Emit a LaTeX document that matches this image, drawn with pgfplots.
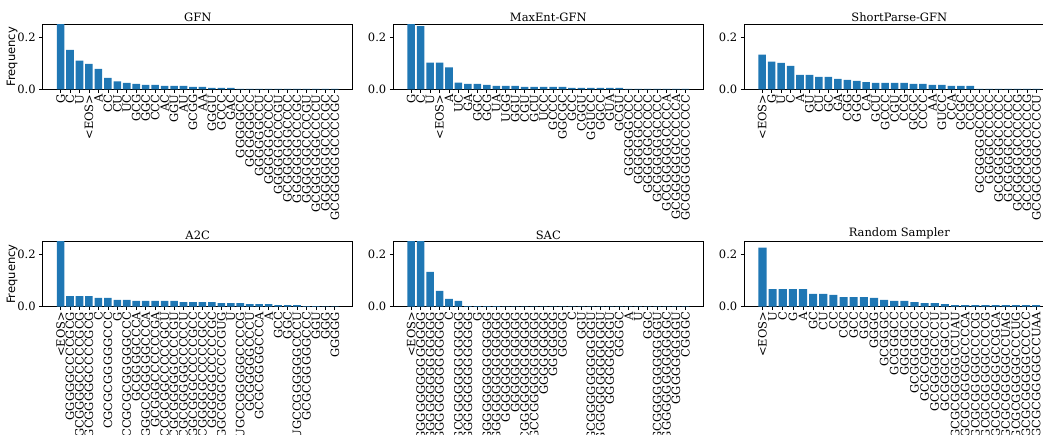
\documentclass[border=0pt]{standalone}
\usepackage{fontspec}
\setmainfont{DejaVu Serif}
\setsansfont{DejaVu Sans}
\usepackage{pgfplots}
\pgfplotsset{compat=1.18}
\definecolor{barblue}{HTML}{1F77B4}

\newcommand{\lblfont}{\fontsize{11.5}{13}\selectfont}

\pgfplotsset{
  panel/.style={
    scale only axis, width=310pt, height=65pt,
    ymin=0, ymax=0.25, ytick={0,0.2},
    yticklabel style={/pgf/number format/.cd, fixed, fixed zerofill, precision=1, assume math mode=true},
    tick align=outside, major tick length=3.5pt,
    tick style={black, line width=0.7pt},
    tick pos=left,
    axis line style={line width=0.8pt},
    ybar, bar width=0.8, bar shift=0pt,
    title style={font=\lblfont, yshift=-7pt},
    tick label style={font=\lblfont},
    xticklabel style={rotate=90, anchor=east, inner sep=1.5pt},
    xmin=-1.89, xmax=30.89, xtick={0,...,29},
  },
  freq/.style={ylabel={Frequency}, ylabel style={font=\sffamily\lblfont, yshift=-7pt}},
}

\begin{document}
\begin{tikzpicture}

% ---------------- top row ----------------
\begin{axis}[panel, freq, at={(42.7pt,345.7pt)}, anchor=south west, title={GFN},
  xticklabels={G,C,U,<EOS>,A,CC,CU,UC,GCG,GGC,CCC,AC,GGU,AU,GCGG,AA,GGGU,GCCC,GAC,
    GGGGGCC,GGGGGGCC,GGGGGGCCU,GGGGGGCCCC,GGGGGGCCCGU,GCGGGGGGCCCC,GGGGGGGCCCGC,
    GGGGGGCCCCGU,GCGGGGGGCCCCU,GGGGGGGCCCCGC,GCGGGGGGCCCCGC}]
\addplot[fill=barblue, draw=none] coordinates {
  (0,0.30) (1,0.152) (2,0.110) (3,0.098) (4,0.079) (5,0.044) (6,0.030) (7,0.025)
  (8,0.021) (9,0.017) (10,0.017) (11,0.013) (12,0.013) (13,0.013) (14,0.009)
  (15,0.009) (16,0.005) (17,0.005) (18,0.005) (19,0.002) (20,0.002) (21,0.002)
  (22,0.002) (23,0.002) (24,0.002) (25,0.002) (26,0.002) (27,0.002) (28,0.002) (29,0.002)};
\end{axis}

\begin{axis}[panel, at={(393.3pt,345.7pt)}, anchor=south west, title={MaxEnt-GFN},
  xticklabels={G,C,U,<EOS>,A,UC,GA,GGC,GCG,UA,UGG,GGU,CGU,GCU,UCC,GCCC,GGCGC,GCC,CGGU,
    GGUCC,GGCC,GUA,GCGU,GGGGGGCCC,GGGGGGCCCC,GGGGGGCCCCC,GCGGGGGGCCCC,
    GCGGGGGGCCCCA,GCGGGGGGCCCCCA,GCGGGGGGCCCCCC}]
\addplot[fill=barblue, draw=none] coordinates {
  (0,0.30) (1,0.243) (2,0.103) (3,0.103) (4,0.084) (5,0.026) (6,0.021) (7,0.021)
  (8,0.017) (9,0.013) (10,0.013) (11,0.013) (12,0.009) (13,0.009) (14,0.009)
  (15,0.009) (16,0.009) (17,0.005) (18,0.005) (19,0.005) (20,0.005) (21,0.005)
  (22,0.005) (23,0.002) (24,0.002) (25,0.002) (26,0.002) (27,0.002) (28,0.002) (29,0.002)};
\end{axis}

\begin{axis}[panel, at={(744.3pt,345.7pt)}, anchor=south west, title={ShortParse-GFN},
  xticklabels={<EOS>,G,U,C,A,GU,CU,GC,GA,CGG,GGG,CA,GCU,GCCC,CGU,CCG,GCGC,CCCC,AA,GUCC,
    CCA,GCGC,CCGC,GCGGGGGCCCC,GGGGCCCCCC,GCGGGGGCCCCC,GCGGGGCCCCCC,GCGGGGGCCCCCG,
    GCCGCGGGCCCCG,GCGGCGGGCCCCCU}]
\addplot[fill=barblue, draw=none] coordinates {
  (0,0.133) (1,0.106) (2,0.102) (3,0.090) (4,0.055) (5,0.055) (6,0.048) (7,0.048)
  (8,0.040) (9,0.036) (10,0.032) (11,0.028) (12,0.025) (13,0.025) (14,0.025)
  (15,0.025) (16,0.021) (17,0.021) (18,0.017) (19,0.017) (20,0.013) (21,0.013)
  (22,0.013) (23,0.002) (24,0.002) (25,0.002) (26,0.002) (27,0.002) (28,0.002) (29,0.002)};
\end{axis}

% ---------------- bottom row ----------------
\begin{axis}[panel, freq, at={(42.7pt,128.3pt)}, anchor=south west, title={A2C},
  xticklabels={<EOS>,GGGGGCCCCGCG,GCGGGGCCCCCGCG,GCGGGGGCCCCGCG,C,CGCGCGGGGGCCC,G,
    CCGCGCGGGGGCCC,GCGGGGCCCA,GGGCCGGGGGCCCA,GCGGGCCCCCCGA,CCGCGGCCCCCGCU,
    CGCGGGGGCCCCGU,CGCGGGGGCCCCCU,GGCGGGCCCCCGCC,GCGGGGGCCCCCGCC,GGGGGGCCCCCGC,
    GGCGGGCCCCCGUG,U,GUGCCGGGGGCCCCG,GCGGGGGCCCU,GCGCGGGGCCCA,A,GCC,GGC,
    GUGCCGGGGGGCCCU,GCGCGGGGGCCC,GGU,GGG,GGGGG}]
\addplot[fill=barblue, draw=none] coordinates {
  (0,0.30) (1,0.041) (2,0.041) (3,0.041) (4,0.034) (5,0.034) (6,0.026) (7,0.026)
  (8,0.022) (9,0.022) (10,0.022) (11,0.022) (12,0.022) (13,0.018) (14,0.018)
  (15,0.018) (16,0.018) (17,0.014) (18,0.014) (19,0.014) (20,0.010) (21,0.010)
  (22,0.010) (23,0.0065) (24,0.0065) (25,0.0065) (26,0.0026) (27,0.0026) (28,0.0013) (29,0.0013)};
\end{axis}

\begin{axis}[panel, at={(393.3pt,128.3pt)}, anchor=south west, title={SAC},
  xticklabels={<EOS>,GGGGGGGGGGGGGG,GGGGGGGGGGGGGG,GGGGGGGGGGGGGG,C,GCGGGGGGGGGGGG,
    GGGGGGGGGGGGGG,G,GGGGGGGGGGGGGG,GGGGGGGGGGGGGG,GGGGGGGGGGGG,GGGGGGGGGGG,
    CGGGGGGGGGGGGG,GCCGGGGGGGGGGG,GGGGGGGGG,GGGGGGG,GGGGG,C,GGU,GCGGGGGGGGGGGU,
    GGGGGGGGGGGGGU,GGGGGGGGGU,GGGGC,A,U,GGC,GCGGGGGGGGGGGU,GGGGGGGGGGGGGC,
    GGGGGGGGGU,CGGGC}]
\addplot[fill=barblue, draw=none] coordinates {
  (0,0.30) (1,0.30) (2,0.134) (3,0.061) (4,0.030) (5,0.022) (6,0.0026) (7,0.0026)
  (8,0.0026) (9,0.0026) (10,0.0008) (11,0.0008) (12,0.0008) (13,0.0008) (14,0.0008)
  (15,0.0008) (16,0.0008) (17,0.0008) (18,0.0008) (19,0.0008) (20,0.0008) (21,0.0008)
  (22,0.0008) (23,0.0008) (24,0.0008) (25,0.0008) (26,0.0008) (27,0.0008) (28,0.0008) (29,0.0008)};
\end{axis}

\begin{axis}[panel, at={(744.3pt,128.3pt)}, anchor=south west, title={Random Sampler},
  xmin=-1.79, xmax=28.79, xtick={0,...,27},
  xticklabels={<EOS>,U,C,G,A,GC,CU,CC,CGC,GCC,GGC,GGGG,GCGGGC,GCGGGCC,GGGGGCC,
    GCGGGGGCC,GCGCGGGCCC,GCGGGGGCCCU,GCGGGCGGCCU,GCGCGGGGGCCUAU,GCGCGGGGGCCCCA,
    GCGCGGGGGCCCCG,GCGCGGGGGCCCCG,GCGCGGGGGCCGCA,GCGCGGGGGCCUAG,GCGCGGGGGCCCUG,
    GCGCGGGGGCCCCC,GCGCGGGGGCCUAA}]
\addplot[fill=barblue, draw=none] coordinates {
  (0,0.227) (1,0.068) (2,0.068) (3,0.068) (4,0.068) (5,0.049) (6,0.049) (7,0.045)
  (8,0.037) (9,0.037) (10,0.037) (11,0.034) (12,0.026) (13,0.022) (14,0.022)
  (15,0.018) (16,0.014) (17,0.014) (18,0.010) (19,0.0065) (20,0.0065) (21,0.0065)
  (22,0.0065) (23,0.0065) (24,0.0065) (25,0.0065) (26,0.0065) (27,0.0065)};
\end{axis}

\pgfresetboundingbox
\path[use as bounding box] (0,0) rectangle (1043pt,435pt);
\end{tikzpicture}
\end{document}
